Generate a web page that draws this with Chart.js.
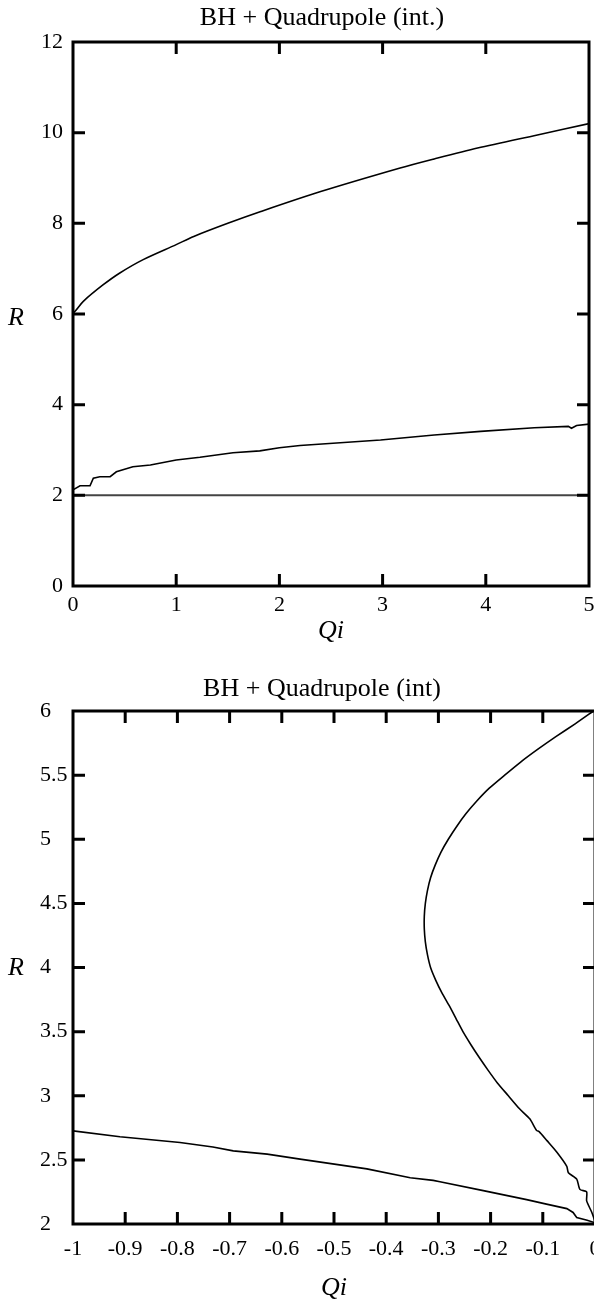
<!DOCTYPE html>
<html>
<head>
<meta charset="utf-8">
<script src="https://cdn.jsdelivr.net/npm/chart.js@4.4.0/dist/chart.umd.min.js"></script>
<style>
  html, body { margin: 0; padding: 0; background: #fff; overflow: hidden; }
  #chart-1 { position: absolute; left: 0; top: 0; }
  #chart-2 { position: absolute; left: 0; top: 650px; }
</style>
</head>
<body>
<canvas id="chart-1" width="594" height="650"></canvas>
<canvas id="chart-2" width="600" height="654"></canvas>
<script>
// top panel: Qi from 0 to 5
const topQiTicks = [0, 1, 2, 3, 4, 5];
const topQiLabels = ['0', '1', '2', '3', '4', '5'];
const topRTicks = [0, 2, 4, 6, 8, 10, 12];
const topRLabels = ['0', '2', '4', '6', '8', '10', '12'];

const upperQi = [0, 0.02, 0.1, 0.29, 0.45, 0.68, 1.0, 1.17, 1.5, 1.82, 2.4, 3.17, 3.5, 3.92, 4.5, 5.0];
const upperR  = [6.02, 6.06, 6.28, 6.64, 6.9, 7.2, 7.53, 7.71, 8.0, 8.26, 8.70, 9.22, 9.42, 9.66, 9.95, 10.2];

const lowerQi = [0, 0.068, 0.165, 0.197, 0.26, 0.36, 0.42, 0.58, 0.75, 1.0, 1.23, 1.55, 1.81, 2.0, 2.2, 2.98, 3.5, 3.95, 4.47, 4.8, 4.83, 4.88, 5.0];
const lowerR  = [2.12, 2.21, 2.21, 2.38, 2.41, 2.41, 2.52, 2.63, 2.67, 2.78, 2.84, 2.94, 2.98, 3.05, 3.10, 3.22, 3.33, 3.41, 3.49, 3.52, 3.48, 3.54, 3.57];

const flatQi = [0, 5];
const flatR  = [2, 2];

// bottom panel: Qi from -1 to 0
const botQiTicks = [-1, -0.9, -0.8, -0.7, -0.6, -0.5, -0.4, -0.3, -0.2, -0.1, 0];
const botQiLabels = ['-1', '-0.9', '-0.8', '-0.7', '-0.6', '-0.5', '-0.4', '-0.3', '-0.2', '-0.1', '0'];
const botRTicks = [2, 2.5, 3, 3.5, 4, 4.5, 5, 5.5, 6];
const botRLabels = ['2', '2.5', '3', '3.5', '4', '4.5', '5', '5.5', '6'];

const arcQi = [-0.003, -0.038, -0.075, -0.11, -0.143, -0.173, -0.202, -0.226, -0.247, -0.265, -0.281, -0.295, -0.306, -0.315, -0.321, -0.325, -0.327, -0.327, -0.325, -0.321, -0.315, -0.305, -0.293, -0.279, -0.266, -0.253, -0.238, -0.222, -0.205, -0.187, -0.166, -0.145, -0.125, -0.112, -0.107, -0.092, -0.073, -0.054, -0.051, -0.035, -0.029, -0.016, -0.016, -0.006, 0];
const arcR  = [6.0, 5.9, 5.8, 5.7, 5.6, 5.5, 5.4, 5.3, 5.2, 5.1, 5.0, 4.9, 4.8, 4.7, 4.6, 4.5, 4.4, 4.3, 4.2, 4.1, 4.0, 3.9, 3.8, 3.7, 3.6, 3.5, 3.4, 3.3, 3.2, 3.1, 3.0, 2.9, 2.82, 2.73, 2.72, 2.65, 2.56, 2.45, 2.40, 2.35, 2.27, 2.25, 2.18, 2.09, 2.02];

const lowQi = [-1, -0.91, -0.795, -0.732, -0.693, -0.628, -0.565, -0.437, -0.354, -0.31, -0.297, -0.214, -0.131, -0.093, -0.054, -0.042, -0.035, -0.015, 0];
const lowR  = [2.726, 2.68, 2.636, 2.60, 2.57, 2.545, 2.506, 2.43, 2.36, 2.34, 2.33, 2.26, 2.19, 2.155, 2.12, 2.09, 2.05, 2.03, 2.01];

const pts = (xs, ys) => xs.map((v, i) => ({ x: v, y: ys[i] }));

// frame, inward ticks on all four sides, panel title and the R label
const framePlugin = {
  id: 'frame',
  afterDraw(chart, args, opts) {
    const { ctx, chartArea: a, scales } = chart;
    const sx = scales.x, sy = scales.y;
    const eps = 1e-9;
    ctx.save();
    ctx.strokeStyle = '#000';
    ctx.lineWidth = 3;
    ctx.strokeRect(a.left, a.top, a.right - a.left, a.bottom - a.top);
    ctx.beginPath();
    sx.ticks.forEach(t => {
      if (t.value <= sx.min + eps || t.value >= sx.max - eps) return;
      const px = sx.getPixelForValue(t.value);
      ctx.moveTo(px, a.bottom); ctx.lineTo(px, a.bottom - opts.tick);
      ctx.moveTo(px, a.top); ctx.lineTo(px, a.top + opts.tick);
    });
    sy.ticks.forEach(t => {
      if (t.value <= sy.min + eps || t.value >= sy.max - eps) return;
      const py = sy.getPixelForValue(t.value);
      ctx.moveTo(a.left, py); ctx.lineTo(a.left + opts.tick, py);
      ctx.moveTo(a.right, py); ctx.lineTo(a.right - opts.tick, py);
    });
    ctx.stroke();

    ctx.fillStyle = '#000';
    ctx.font = '26px "Liberation Serif"';
    ctx.textAlign = 'center';
    ctx.textBaseline = 'alphabetic';
    ctx.fillText(opts.title, opts.titleX, opts.titleY);

    ctx.font = 'italic 26px "Liberation Serif"';
    ctx.textBaseline = 'middle';
    ctx.fillText('R', opts.labelX, (a.top + a.bottom) / 2 + opts.labelDY);
    ctx.restore();
  }
};

const tickFont = { family: 'Liberation Serif', size: 22 };
const titleFont = { family: 'Liberation Serif', size: 26, style: 'italic' };

const ctx_1 = document.getElementById('chart-1').getContext('2d');

new Chart(ctx_1, {
  type: 'scatter',
  data: {
    datasets: [
      { data: pts(upperQi, upperR), showLine: true, borderColor: '#000', borderWidth: 1.6, pointRadius: 0, tension: 0.3 },
      { data: pts(lowerQi, lowerR), showLine: true, borderColor: '#000', borderWidth: 1.6, pointRadius: 0, tension: 0 },
      { data: pts(flatQi, flatR), showLine: true, borderColor: '#444', borderWidth: 2, pointRadius: 0 }
    ]
  },
  options: {
    responsive: false,
    animation: false,
    devicePixelRatio: 1,
    layout: { padding: { top: 42, right: 5, left: 0, bottom: 0 } },
    plugins: {
      legend: { display: false },
      tooltip: { enabled: false },
      frame: { tick: 12, title: 'BH + Quadrupole (int.)', titleX: 322, titleY: 25, labelX: 16, labelDY: 4 }
    },
    scales: {
      x: {
        type: 'linear', min: 0, max: 5,
        afterBuildTicks: s => { s.ticks = topQiTicks.map(v => ({ value: v })); },
        afterFit: s => { s.height = 64; s.paddingLeft = 0; s.paddingRight = 0; },
        grid: { display: false, drawTicks: false },
        border: { display: false },
        ticks: { color: '#000', font: tickFont, padding: 6, maxRotation: 0, autoSkip: false, callback: (v, i) => topQiLabels[i] },
        title: { display: true, text: 'Qi', color: '#000', font: titleFont, padding: { top: 0, bottom: 3 } }
      },
      y: {
        type: 'linear', min: 0, max: 12,
        afterBuildTicks: s => { s.ticks = topRTicks.map(v => ({ value: v })); },
        afterFit: s => { s.width = 73; },
        grid: { display: false, drawTicks: false },
        border: { display: false },
        ticks: { color: '#000', font: tickFont, padding: 10, crossAlign: 'near', autoSkip: false, callback: (v, i) => topRLabels[i] }
      }
    }
  },
  plugins: [framePlugin]
});

const ctx_2 = document.getElementById('chart-2').getContext('2d');

new Chart(ctx_2, {
  type: 'scatter',
  data: {
    datasets: [
      { data: pts(arcQi, arcR), showLine: true, borderColor: '#000', borderWidth: 1.6, pointRadius: 0, tension: 0.2 },
      { data: pts(lowQi, lowR), showLine: true, borderColor: '#000', borderWidth: 1.6, pointRadius: 0, tension: 0 }
    ]
  },
  options: {
    responsive: false,
    animation: false,
    devicePixelRatio: 1,
    layout: { padding: { top: 61, right: 5, left: 40, bottom: 0 } },
    plugins: {
      legend: { display: false },
      tooltip: { enabled: false },
      frame: { tick: 12, title: 'BH + Quadrupole (int)', titleX: 322, titleY: 46, labelX: 16, labelDY: 1 }
    },
    scales: {
      x: {
        type: 'linear', min: -1, max: 0,
        afterBuildTicks: s => { s.ticks = botQiTicks.map(v => ({ value: v })); },
        afterFit: s => { s.height = 80; s.paddingLeft = 0; s.paddingRight = 0; },
        grid: { display: false, drawTicks: false },
        border: { display: false },
        ticks: { color: '#000', font: tickFont, padding: 12, maxRotation: 0, autoSkip: false, callback: (v, i) => botQiLabels[i] },
        title: { display: true, text: 'Qi', color: '#000', font: titleFont, padding: { top: 0, bottom: 0 } }
      },
      y: {
        type: 'linear', min: 2, max: 6,
        afterBuildTicks: s => { s.ticks = botRTicks.map(v => ({ value: v })); },
        afterFit: s => { s.width = 33; },
        grid: { display: false, drawTicks: false },
        border: { display: false },
        ticks: { color: '#000', font: tickFont, padding: 6, crossAlign: 'far', autoSkip: false, callback: (v, i) => botRLabels[i] }
      }
    }
  },
  plugins: [framePlugin]
});
</script>
</body>
</html>
